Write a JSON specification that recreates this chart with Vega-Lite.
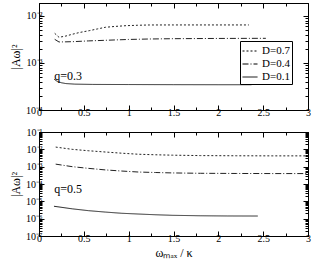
{
  "$schema": "https://vega.github.io/schema/vega-lite/v6.json",
  "padding": {"left": 9, "top": 2, "right": 4, "bottom": 3},
  "config": {
    "font": "Liberation Serif",
    "view": {"stroke": "black", "strokeWidth": 1},
    "axis": {"grid": false, "domainColor": "black", "tickColor": "black", "labelFont": "Liberation Serif", "labelFontSize": 10, "labelColor": "black", "titleFont": "Liberation Serif", "titleFontSize": 12, "titleFontWeight": "normal", "titleColor": "black", "labelPadding": 2, "tickSize": -4, "labelFlush": false, "labelOverlap": false, "labelBound": false},
    "legend": {"rowPadding": 0, "padding": 2, "strokeColor": "black", "fillColor": "white", "cornerRadius": 0, "symbolType": "stroke", "symbolSize": 225, "symbolStrokeColor": "black", "labelFont": "Liberation Serif", "labelFontSize": 11, "labelColor": "black", "labelOffset": 4},
    "concat": {"spacing": 6}
  },
  "datasets": {
    "top": [
      {"D": "D=0.7", "x": 0.175, "y": 0.00428}, {"D": "D=0.7", "x": 0.223, "y": 0.00352}, {"D": "D=0.7", "x": 0.3, "y": 0.00375}, {"D": "D=0.7", "x": 0.37, "y": 0.00408}, {"D": "D=0.7", "x": 0.45, "y": 0.00445}, {"D": "D=0.7", "x": 0.56, "y": 0.00487}, {"D": "D=0.7", "x": 0.65, "y": 0.0053}, {"D": "D=0.7", "x": 0.74, "y": 0.00575}, {"D": "D=0.7", "x": 0.85, "y": 0.006}, {"D": "D=0.7", "x": 0.97, "y": 0.00622}, {"D": "D=0.7", "x": 1.1, "y": 0.00635}, {"D": "D=0.7", "x": 1.23, "y": 0.00644}, {"D": "D=0.7", "x": 1.5, "y": 0.00645}, {"D": "D=0.7", "x": 2.0, "y": 0.00645}, {"D": "D=0.7", "x": 2.34, "y": 0.00645},
      {"D": "D=0.4", "x": 0.175, "y": 0.00319}, {"D": "D=0.4", "x": 0.223, "y": 0.0028}, {"D": "D=0.4", "x": 0.3, "y": 0.00282}, {"D": "D=0.4", "x": 0.37, "y": 0.00284}, {"D": "D=0.4", "x": 0.55, "y": 0.00295}, {"D": "D=0.4", "x": 0.74, "y": 0.00304}, {"D": "D=0.4", "x": 1.0, "y": 0.00317}, {"D": "D=0.4", "x": 1.23, "y": 0.00324}, {"D": "D=0.4", "x": 1.5, "y": 0.00329}, {"D": "D=0.4", "x": 2.0, "y": 0.00333}, {"D": "D=0.4", "x": 2.53, "y": 0.00335},
      {"D": "D=0.1", "x": 0.17, "y": 0.00045}, {"D": "D=0.1", "x": 0.2, "y": 0.00041}, {"D": "D=0.1", "x": 0.25, "y": 0.00038}, {"D": "D=0.1", "x": 0.3, "y": 0.000365}, {"D": "D=0.1", "x": 0.4, "y": 0.000355}, {"D": "D=0.1", "x": 0.6, "y": 0.00035}, {"D": "D=0.1", "x": 1.0, "y": 0.000348}, {"D": "D=0.1", "x": 1.5, "y": 0.000346}, {"D": "D=0.1", "x": 2.0, "y": 0.000345}, {"D": "D=0.1", "x": 2.37, "y": 0.000345}
    ],
    "bot": [
      {"D": "D=0.7", "x": 0.186, "y": 0.0135}, {"D": "D=0.7", "x": 0.37, "y": 0.01}, {"D": "D=0.7", "x": 0.55, "y": 0.0083}, {"D": "D=0.7", "x": 0.74, "y": 0.007}, {"D": "D=0.7", "x": 0.92, "y": 0.006}, {"D": "D=0.7", "x": 1.11, "y": 0.0052}, {"D": "D=0.7", "x": 1.3, "y": 0.00485}, {"D": "D=0.7", "x": 1.49, "y": 0.0046}, {"D": "D=0.7", "x": 1.8, "y": 0.00435}, {"D": "D=0.7", "x": 2.2, "y": 0.00425}, {"D": "D=0.7", "x": 2.6, "y": 0.0042}, {"D": "D=0.7", "x": 3.0, "y": 0.0042},
      {"D": "D=0.4", "x": 0.186, "y": 0.0014}, {"D": "D=0.4", "x": 0.37, "y": 0.001}, {"D": "D=0.4", "x": 0.55, "y": 0.0008}, {"D": "D=0.4", "x": 0.74, "y": 0.00065}, {"D": "D=0.4", "x": 0.92, "y": 0.00056}, {"D": "D=0.4", "x": 1.11, "y": 0.00049}, {"D": "D=0.4", "x": 1.3, "y": 0.00046}, {"D": "D=0.4", "x": 1.49, "y": 0.000435}, {"D": "D=0.4", "x": 1.8, "y": 0.000415}, {"D": "D=0.4", "x": 2.2, "y": 0.000405}, {"D": "D=0.4", "x": 2.6, "y": 0.0004}, {"D": "D=0.4", "x": 3.0, "y": 0.0004},
      {"D": "D=0.1", "x": 0.167, "y": 0.0000052}, {"D": "D=0.1", "x": 0.37, "y": 0.0000037}, {"D": "D=0.1", "x": 0.55, "y": 0.0000029}, {"D": "D=0.1", "x": 0.74, "y": 0.0000024}, {"D": "D=0.1", "x": 0.92, "y": 0.00000205}, {"D": "D=0.1", "x": 1.11, "y": 0.00000185}, {"D": "D=0.1", "x": 1.3, "y": 0.00000168}, {"D": "D=0.1", "x": 1.49, "y": 0.00000156}, {"D": "D=0.1", "x": 1.8, "y": 0.00000147}, {"D": "D=0.1", "x": 2.1, "y": 0.00000143}, {"D": "D=0.1", "x": 2.44, "y": 0.00000142}
    ],
    "labTop": [{"label": "q=0.3", "x": 0.17, "y": 0.00054}],
    "labBot": [{"label": "q=0.5", "x": 0.17, "y": 0.00005}]
  },
  "resolve": {"legend": {"strokeDash": "independent", "strokeWidth": "independent"}},
  "vconcat": [
    {
      "width": 269, "height": 107,
      "layer": [
        {
          "data": {"name": "top"},
          "mark": {"type": "line", "stroke": "#222"},
          "encoding": {
            "x": {"field": "x", "type": "quantitative", "scale": {"domain": [0, 3], "nice": false},
              "axis": {"title": null, "values": [0, 0.25, 0.5, 0.75, 1, 1.25, 1.5, 1.75, 2, 2.25, 2.5, 2.75, 3], "labelExpr": "datum.value % 0.5 === 0 ? toString(datum.value) : ''", "tickSize": {"condition": {"test": "datum.value % 0.5 === 0", "value": -5}, "value": -3}}},
            "y": {"field": "y", "type": "quantitative", "scale": {"type": "log", "domain": [0.0001, 0.0189], "nice": false},
              "axis": {"title": "|Aω|²", "titlePadding": 3, "values": [0.0001, 0.0002, 0.0003, 0.0004, 0.0005, 0.0006, 0.0007, 0.0008, 0.0009, 0.001, 0.002, 0.003, 0.004, 0.005, 0.006, 0.007, 0.008, 0.009, 0.01],
                "labelExpr": "abs(log(datum.value)/LN10 - round(log(datum.value)/LN10)) < 0.000001 ? '10' + ['⁰','⁻¹','⁻²','⁻³','⁻⁴','⁻⁵','⁻⁶','⁻⁷'][-round(log(datum.value)/LN10)] : ''",
                "tickSize": {"condition": {"test": "abs(log(datum.value)/LN10 - round(log(datum.value)/LN10)) < 0.000001", "value": -5}, "value": -3}}},
            "strokeDash": {"field": "D", "type": "nominal", "scale": {"domain": ["D=0.7", "D=0.4", "D=0.1"], "range": [[2, 2], [6, 2, 1, 2], [1, 0]]},
              "legend": {"orient": "none", "legendX": 201, "legendY": 38, "title": null}},
            "strokeWidth": {"field": "D", "type": "nominal", "scale": {"domain": ["D=0.7", "D=0.4", "D=0.1"], "range": [1, 1, 1.4]},
              "legend": {"orient": "none", "legendX": 201, "legendY": 38, "title": null}}
          }
        },
        {
          "data": {"name": "top"},
          "mark": {"type": "line", "opacity": 0},
          "encoding": {
            "x": {"field": "x", "type": "quantitative", "scale": {"domain": [0, 3], "nice": false},
              "axis": {"orient": "top", "title": null, "labels": false, "values": [0, 0.25, 0.5, 0.75, 1, 1.25, 1.5, 1.75, 2, 2.25, 2.5, 2.75, 3], "tickSize": {"condition": {"test": "datum.value % 0.5 === 0", "value": -5}, "value": -3}}},
            "y": {"field": "y", "type": "quantitative", "scale": {"type": "log", "domain": [0.0001, 0.0189], "nice": false},
              "axis": {"orient": "right", "title": null, "labels": false, "values": [0.0001, 0.0002, 0.0003, 0.0004, 0.0005, 0.0006, 0.0007, 0.0008, 0.0009, 0.001, 0.002, 0.003, 0.004, 0.005, 0.006, 0.007, 0.008, 0.009, 0.01],
                "tickSize": {"condition": {"test": "abs(log(datum.value)/LN10 - round(log(datum.value)/LN10)) < 0.000001", "value": -5}, "value": -3}}}
          }
        },
        {
          "data": {"name": "labTop"},
          "mark": {"type": "text", "align": "left", "baseline": "middle", "fontSize": 12, "font": "Liberation Serif", "color": "black"},
          "encoding": {
            "x": {"field": "x", "type": "quantitative", "axis": null},
            "y": {"field": "y", "type": "quantitative", "axis": null},
            "text": {"field": "label"}
          }
        }
      ],
      "resolve": {"axis": {"x": "independent", "y": "independent"}}
    },
    {
      "width": 269, "height": 104,
      "layer": [
        {
          "data": {"name": "bot"},
          "mark": {"type": "line", "stroke": "#222"},
          "encoding": {
            "x": {"field": "x", "type": "quantitative", "scale": {"domain": [0, 3], "nice": false},
              "axis": {"title": "ωₘₐₓ / κ", "titlePadding": 2, "values": [0, 0.25, 0.5, 0.75, 1, 1.25, 1.5, 1.75, 2, 2.25, 2.5, 2.75, 3], "labelExpr": "datum.value % 0.5 === 0 ? toString(datum.value) : ''", "tickSize": {"condition": {"test": "datum.value % 0.5 === 0", "value": -5}, "value": -3}}},
            "y": {"field": "y", "type": "quantitative", "scale": {"type": "log", "domain": [0.0000001, 0.1], "nice": false},
              "axis": {"title": "|Aω|²", "titlePadding": 3, "values": [1e-7, 2e-7, 3e-7, 4e-7, 5e-7, 6e-7, 7e-7, 8e-7, 9e-7, 1e-6, 2e-6, 3e-6, 4e-6, 5e-6, 6e-6, 7e-6, 8e-6, 9e-6, 1e-5, 2e-5, 3e-5, 4e-5, 5e-5, 6e-5, 7e-5, 8e-5, 9e-5, 1e-4, 2e-4, 3e-4, 4e-4, 5e-4, 6e-4, 7e-4, 8e-4, 9e-4, 1e-3, 2e-3, 3e-3, 4e-3, 5e-3, 6e-3, 7e-3, 8e-3, 9e-3, 1e-2, 2e-2, 3e-2, 4e-2, 5e-2, 6e-2, 7e-2, 8e-2, 9e-2, 1e-1],
                "labelExpr": "abs(log(datum.value)/LN10 - round(log(datum.value)/LN10)) < 0.000001 ? '10' + ['⁰','⁻¹','⁻²','⁻³','⁻⁴','⁻⁵','⁻⁶','⁻⁷'][-round(log(datum.value)/LN10)] : ''",
                "tickSize": {"condition": {"test": "abs(log(datum.value)/LN10 - round(log(datum.value)/LN10)) < 0.000001", "value": -5}, "value": -3}}},
            "strokeDash": {"field": "D", "type": "nominal", "scale": {"domain": ["D=0.7", "D=0.4", "D=0.1"], "range": [[2, 2], [6, 2, 1, 2], [1, 0]]}, "legend": null},
            "strokeWidth": {"field": "D", "type": "nominal", "scale": {"domain": ["D=0.7", "D=0.4", "D=0.1"], "range": [1, 1, 1.4]}, "legend": null}
          }
        },
        {
          "data": {"name": "bot"},
          "mark": {"type": "line", "opacity": 0},
          "encoding": {
            "x": {"field": "x", "type": "quantitative", "scale": {"domain": [0, 3], "nice": false},
              "axis": {"orient": "top", "title": null, "labels": false, "values": [0, 0.25, 0.5, 0.75, 1, 1.25, 1.5, 1.75, 2, 2.25, 2.5, 2.75, 3], "tickSize": {"condition": {"test": "datum.value % 0.5 === 0", "value": -5}, "value": -3}}},
            "y": {"field": "y", "type": "quantitative", "scale": {"type": "log", "domain": [0.0000001, 0.1], "nice": false},
              "axis": {"orient": "right", "title": null, "labels": false, "values": [1e-7, 2e-7, 3e-7, 4e-7, 5e-7, 6e-7, 7e-7, 8e-7, 9e-7, 1e-6, 2e-6, 3e-6, 4e-6, 5e-6, 6e-6, 7e-6, 8e-6, 9e-6, 1e-5, 2e-5, 3e-5, 4e-5, 5e-5, 6e-5, 7e-5, 8e-5, 9e-5, 1e-4, 2e-4, 3e-4, 4e-4, 5e-4, 6e-4, 7e-4, 8e-4, 9e-4, 1e-3, 2e-3, 3e-3, 4e-3, 5e-3, 6e-3, 7e-3, 8e-3, 9e-3, 1e-2, 2e-2, 3e-2, 4e-2, 5e-2, 6e-2, 7e-2, 8e-2, 9e-2, 1e-1],
                "tickSize": {"condition": {"test": "abs(log(datum.value)/LN10 - round(log(datum.value)/LN10)) < 0.000001", "value": -5}, "value": -3}}}
          }
        },
        {
          "data": {"name": "labBot"},
          "mark": {"type": "text", "align": "left", "baseline": "middle", "fontSize": 12, "font": "Liberation Serif", "color": "black"},
          "encoding": {
            "x": {"field": "x", "type": "quantitative", "axis": null},
            "y": {"field": "y", "type": "quantitative", "axis": null},
            "text": {"field": "label"}
          }
        }
      ],
      "resolve": {"axis": {"x": "independent", "y": "independent"}}
    }
  ]
}
